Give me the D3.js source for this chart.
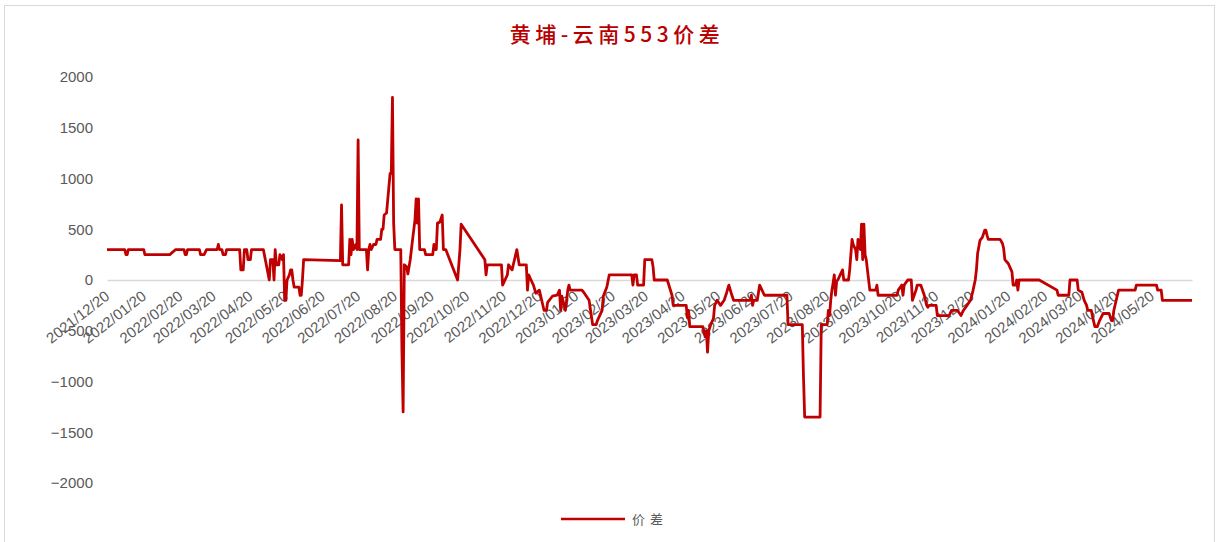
<!DOCTYPE html>
<html><head><meta charset="utf-8">
<script src="https://cdn.jsdelivr.net/npm/d3@7"></script>
<style>html,body{margin:0;padding:0;background:#fff;}svg{display:block;}</style>
</head><body>
<svg id="c" width="1216" height="542"></svg>
<script>
const title = "黄埔-云南553价差";
const seriesName = "价差";
const tickLabels = ["2021/12/20","2022/01/20","2022/02/20","2022/03/20","2022/04/20","2022/05/20","2022/06/20","2022/07/20","2022/08/20","2022/09/20","2022/10/20","2022/11/20","2022/12/20","2023/01/20","2023/02/20","2023/03/20","2023/04/20","2023/05/20","2023/06/20","2023/07/20","2023/08/20","2023/09/20","2023/10/20","2023/11/20","2023/12/20","2024/01/20","2024/02/20","2024/03/20","2024/04/20","2024/05/20"];
const yTicks = [-2000,-1500,-1000,-500,0,500,1000,1500,2000];
const dates = [
"2021-12-20","2022-01-04","2022-01-05","2022-01-06","2022-01-07","2022-01-20","2022-01-21","2022-02-11","2022-02-16","2022-02-23",
"2022-02-24","2022-02-25","2022-02-26","2022-03-08","2022-03-09","2022-03-12","2022-03-14","2022-03-23","2022-03-24","2022-03-25",
"2022-03-27","2022-03-28","2022-03-30","2022-03-31","2022-04-11","2022-04-12","2022-04-14","2022-04-15","2022-04-17","2022-04-18",
"2022-04-20","2022-04-21","2022-05-01","2022-05-06","2022-05-07","2022-05-09","2022-05-10","2022-05-11","2022-05-12","2022-05-14",
"2022-05-15","2022-05-17","2022-05-18","2022-05-19","2022-05-20","2022-05-21","2022-05-23","2022-05-24","2022-05-25","2022-05-26",
"2022-05-27","2022-05-31","2022-06-01","2022-06-02","2022-06-03","2022-06-04","2022-07-05","2022-07-06","2022-07-07","2022-07-12",
"2022-07-13","2022-07-14","2022-07-15","2022-07-16","2022-07-18","2022-07-19","2022-07-20","2022-07-21","2022-07-27","2022-07-28",
"2022-07-29","2022-07-30","2022-07-31","2022-08-02","2022-08-04","2022-08-05","2022-08-08","2022-08-09","2022-08-10","2022-08-11",
"2022-08-13","2022-08-16","2022-08-17","2022-08-18","2022-08-19","2022-08-20","2022-08-25","2022-08-26","2022-08-27","2022-08-28",
"2022-08-30","2022-08-31","2022-09-02","2022-09-04","2022-09-06","2022-09-07","2022-09-08","2022-09-09","2022-09-10","2022-09-14",
"2022-09-15","2022-09-21","2022-09-22","2022-09-23","2022-09-24","2022-09-25","2022-09-27","2022-09-29","2022-09-30","2022-10-02",
"2022-10-12","2022-10-14","2022-10-15","2022-11-04","2022-11-05","2022-11-06","2022-11-18","2022-11-19","2022-11-21","2022-11-23",
"2022-11-24","2022-11-27","2022-11-28","2022-11-29","2022-12-01","2022-12-03","2022-12-09","2022-12-10","2022-12-11","2022-12-13",
"2022-12-15","2022-12-17","2022-12-20","2022-12-24","2022-12-26","2022-12-27","2022-12-31","2023-01-04","2023-01-06","2023-01-07",
"2023-01-08","2023-01-11","2023-01-13","2023-01-14","2023-01-15","2023-01-25","2023-01-27","2023-01-31","2023-02-03","2023-02-06",
"2023-02-07","2023-02-11","2023-02-12","2023-02-15","2023-02-17","2023-03-08","2023-03-09","2023-03-10","2023-03-12","2023-03-13",
"2023-03-18","2023-03-19","2023-03-25","2023-03-26","2023-03-27","2023-04-07","2023-04-11","2023-04-12","2023-04-23","2023-04-24",
"2023-04-25","2023-04-26","2023-05-07","2023-05-09","2023-05-10","2023-05-11","2023-05-12","2023-05-14","2023-05-16","2023-05-17",
"2023-05-19","2023-05-22","2023-05-25","2023-05-27","2023-05-29","2023-05-31","2023-06-02","2023-06-16","2023-06-17","2023-06-18",
"2023-06-19","2023-06-22","2023-06-24","2023-06-28","2023-07-17","2023-07-18","2023-07-30","2023-07-31","2023-08-01","2023-08-14",
"2023-08-15","2023-08-20","2023-08-21","2023-08-22","2023-08-23","2023-08-24","2023-08-25","2023-08-26","2023-08-27","2023-08-28",
"2023-08-29","2023-08-31","2023-09-02","2023-09-03","2023-09-07","2023-09-08","2023-09-10","2023-09-11","2023-09-13","2023-09-14",
"2023-09-15","2023-09-17","2023-09-18","2023-09-19","2023-09-20","2023-09-21","2023-09-22","2023-09-23","2023-09-25","2023-09-30",
"2023-10-01","2023-10-02","2023-10-18","2023-10-19","2023-10-22","2023-10-23","2023-10-24","2023-10-27","2023-10-30","2023-10-31",
"2023-11-03","2023-11-04","2023-11-07","2023-11-10","2023-11-12","2023-11-13","2023-11-14","2023-11-20","2023-11-21","2023-12-01",
"2023-12-03","2023-12-08","2023-12-11","2023-12-13","2023-12-16","2023-12-19","2023-12-21","2023-12-23","2023-12-24","2023-12-25",
"2023-12-27","2023-12-29","2023-12-31","2024-01-01","2024-01-02","2024-01-03","2024-01-13","2024-01-15","2024-01-16","2024-01-17",
"2024-01-20","2024-01-23","2024-01-24","2024-01-26","2024-01-27","2024-01-28","2024-01-29","2024-02-15","2024-03-01","2024-03-02",
"2024-03-11","2024-03-12","2024-03-18","2024-03-19","2024-03-22","2024-03-24","2024-03-26","2024-03-27","2024-03-30","2024-03-31",
"2024-04-02","2024-04-04","2024-04-06","2024-04-09","2024-04-14","2024-04-16","2024-04-17","2024-04-18","2024-04-20","2024-04-22",
"2024-05-06","2024-05-07","2024-05-24","2024-05-25","2024-05-28","2024-05-29","2024-06-23"
];
const values = [
300,300,250,250,300,300,250,250,300,300,
250,250,300,300,250,250,300,300,350,300,
300,250,250,300,300,100,100,300,300,200,
200,300,300,0,200,200,0,300,150,150,
250,200,250,-200,-200,0,50,100,100,0,
-70,-70,-150,-150,0,200,190,740,150,150,
400,250,400,300,350,300,1380,300,300,100,
300,350,300,350,350,400,400,500,500,640,
660,1050,1050,1800,560,300,300,-700,-1300,150,
130,60,200,400,590,800,560,800,300,300,
250,250,350,300,300,560,570,640,300,300,
0,300,550,200,50,150,150,-50,0,50,
150,100,150,200,300,150,150,-100,50,0,
-50,-130,-100,-300,-300,-220,-160,-150,-100,-300,
-160,-300,-100,-50,-100,-100,-130,-200,-440,-440,
-400,-300,-160,-70,50,50,-50,50,50,-50,
-50,200,200,130,0,0,-150,-250,-250,-370,
-300,-460,-460,-560,-500,-710,-500,-430,-380,-250,
-200,-250,-200,-130,-50,-130,-200,-200,-150,-250,
-200,-200,-50,-150,-150,-440,-440,-950,-1350,-1350,
-440,-440,-300,-350,-200,-100,-30,50,-150,-10,
0,50,100,0,0,100,400,350,300,200,
400,300,550,200,550,250,200,100,-100,-100,
-50,-150,-150,-100,-50,-150,-50,0,0,-200,
-100,-50,-50,-150,-250,-270,-250,-250,-350,-350,
-300,-300,-350,-300,-250,-200,-110,0,100,260,
390,420,490,490,440,400,400,360,310,200,
160,80,-50,-50,0,-100,0,0,-100,-150,
-150,0,0,-100,-120,-200,-250,-300,-300,-360,
-460,-460,-400,-330,-330,-400,-400,-300,-200,-100,
-100,-50,-50,-100,-100,-200,-200
];

const parseD = d3.timeParse("%Y-%m-%d");
const parseT = d3.timeParse("%Y/%m/%d");
const data = dates.map((d,i)=>({date:parseD(d), value:values[i]}));

const svg = d3.select("#c");
const W = 1216, H = 542;

svg.append("rect").attr("x",4.5).attr("y",5.5).attr("width",W-6).attr("height",H-4)
  .attr("fill","#fff").attr("stroke","#d9d9d9").attr("stroke-width",1);

const x = d3.scaleTime().domain(d3.extent(data,d=>d.date)).range([107,1192]);
const y = d3.scaleLinear().domain([-2000,2000]).range([483,77]);

// title
svg.append("text").attr("x",617).attr("y",42).attr("text-anchor","middle")
  .attr("font-family","'Noto Sans CJK SC', sans-serif").attr("font-size",21).attr("font-weight",500)
  .attr("letter-spacing",4.5).attr("fill","#B80000").text(title);

// y axis
const yAxis = d3.axisLeft(y).tickValues(yTicks).tickSize(0).tickPadding(14).tickFormat(d3.format("d"));
const gy = svg.append("g").attr("transform","translate(107,0)").call(yAxis);
gy.select(".domain").remove();
gy.selectAll("text").attr("font-family","'Liberation Sans', Arial, sans-serif").attr("font-size",15).attr("fill","#595959")
  .text(d=> d<0 ? "\u2212"+Math.abs(d) : d);

// x axis at zero
const xAxis = d3.axisBottom(x).tickValues(tickLabels.map(t=>parseT(t))).tickSize(0).tickFormat(d3.timeFormat("%Y/%m/%d"));
const gx = svg.append("g").attr("transform",`translate(0,${y(0)})`).call(xAxis);
gx.select(".domain").attr("stroke","#d9d9d9").attr("stroke-width",1.5);
gx.selectAll("text").attr("font-family","'Liberation Sans', Arial, sans-serif").attr("font-size",15).attr("fill","#595959")
  .attr("text-anchor","end").attr("dy",0).attr("y",0)
  .attr("transform","translate(3,18) rotate(-38)");

// line
const line = d3.line().x(d=>x(d.date)).y(d=>y(d.value));
svg.append("path").datum(data).attr("d",line).attr("fill","none")
  .attr("stroke","#C00000").attr("stroke-width",2.8).attr("stroke-linejoin","round");

// legend
const lg = svg.append("g").attr("transform","translate(561,519)");
lg.append("line").attr("x1",0).attr("x2",64).attr("y1",0).attr("y2",0).attr("stroke","#C00000").attr("stroke-width",2.5);
lg.append("text").attr("x",71).attr("y",5).attr("font-family","'Noto Sans CJK SC', sans-serif").attr("font-size",13)
  .attr("letter-spacing",5).attr("fill","#595959").text(seriesName);
</script>
</body></html>
